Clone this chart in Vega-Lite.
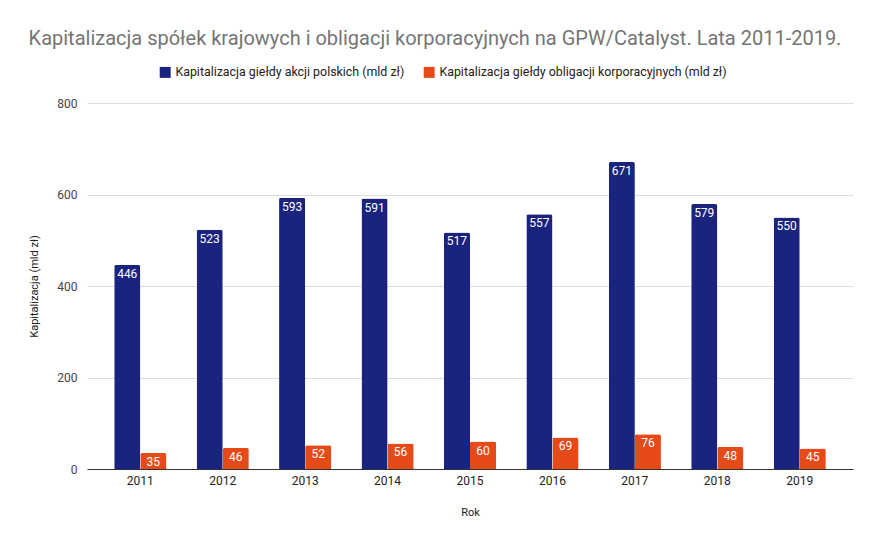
{
  "$schema": "https://vega.github.io/schema/vega-lite/v6.json",
  "width": 766,
  "height": 366,
  "autosize": {"type": "none"},
  "padding": {"left": 87, "top": 103, "right": 28, "bottom": 78},
  "background": "white",
  "title": {
    "text": "Kapitalizacja spółek krajowych i obligacji korporacyjnych na GPW/Catalyst. Lata 2011-2019.",
    "font": "Roboto",
    "fontSize": 20,
    "fontWeight": "normal",
    "color": "#757575",
    "anchor": "middle",
    "frame": "group",
    "dx": -35,
    "offset": 17
  },
  "config": {
    "font": "Roboto",
    "view": {"stroke": null}
  },
  "data": {
    "values": [
      {"Rok": "2011", "Seria": "Kapitalizacja giełdy akcji polskich (mld zł)", "Wartosc": 446},
      {"Rok": "2011", "Seria": "Kapitalizacja giełdy obligacji korporacyjnych (mld zł)", "Wartosc": 35},
      {"Rok": "2012", "Seria": "Kapitalizacja giełdy akcji polskich (mld zł)", "Wartosc": 523},
      {"Rok": "2012", "Seria": "Kapitalizacja giełdy obligacji korporacyjnych (mld zł)", "Wartosc": 46},
      {"Rok": "2013", "Seria": "Kapitalizacja giełdy akcji polskich (mld zł)", "Wartosc": 593},
      {"Rok": "2013", "Seria": "Kapitalizacja giełdy obligacji korporacyjnych (mld zł)", "Wartosc": 52},
      {"Rok": "2014", "Seria": "Kapitalizacja giełdy akcji polskich (mld zł)", "Wartosc": 591},
      {"Rok": "2014", "Seria": "Kapitalizacja giełdy obligacji korporacyjnych (mld zł)", "Wartosc": 56},
      {"Rok": "2015", "Seria": "Kapitalizacja giełdy akcji polskich (mld zł)", "Wartosc": 517},
      {"Rok": "2015", "Seria": "Kapitalizacja giełdy obligacji korporacyjnych (mld zł)", "Wartosc": 60},
      {"Rok": "2016", "Seria": "Kapitalizacja giełdy akcji polskich (mld zł)", "Wartosc": 557},
      {"Rok": "2016", "Seria": "Kapitalizacja giełdy obligacji korporacyjnych (mld zł)", "Wartosc": 69},
      {"Rok": "2017", "Seria": "Kapitalizacja giełdy akcji polskich (mld zł)", "Wartosc": 671},
      {"Rok": "2017", "Seria": "Kapitalizacja giełdy obligacji korporacyjnych (mld zł)", "Wartosc": 76},
      {"Rok": "2018", "Seria": "Kapitalizacja giełdy akcji polskich (mld zł)", "Wartosc": 579},
      {"Rok": "2018", "Seria": "Kapitalizacja giełdy obligacji korporacyjnych (mld zł)", "Wartosc": 48},
      {"Rok": "2019", "Seria": "Kapitalizacja giełdy akcji polskich (mld zł)", "Wartosc": 550},
      {"Rok": "2019", "Seria": "Kapitalizacja giełdy obligacji korporacyjnych (mld zł)", "Wartosc": 45}
    ]
  },
  "encoding": {
    "x": {
      "field": "Rok",
      "type": "nominal",
      "scale": {"paddingInner": 0.367, "paddingOuter": 0.33},
      "axis": {
        "title": "Rok",
        "titleFont": "Roboto",
        "titleFontSize": 11,
        "titleFontWeight": "normal",
        "titleColor": "#222222",
        "titlePadding": 20,
        "labelAngle": 0,
        "labelFontSize": 12,
        "labelColor": "#222222",
        "labelPadding": 6,
        "ticks": false,
        "domainColor": "#333333",
        "domainWidth": 1,
        "grid": false
      }
    },
    "xOffset": {"field": "Seria", "type": "nominal"},
    "y": {
      "field": "Wartosc",
      "type": "quantitative",
      "scale": {"domain": [0, 800]},
      "axis": {
        "title": "Kapitalizacja (mld zł)",
        "titleFont": "Roboto",
        "titleFontSize": 11,
        "titleFontWeight": "normal",
        "titleColor": "#222222",
        "titlePadding": 17,
        "values": [0, 200, 400, 600, 800],
        "labelFontSize": 12,
        "labelColor": "#444444",
        "labelPadding": 10,
        "ticks": false,
        "domain": false,
        "gridColor": "#dddddd"
      }
    }
  },
  "layer": [
    {
      "mark": {"type": "bar", "cornerRadiusTopLeft": 2, "cornerRadiusTopRight": 2},
      "encoding": {
        "color": {
          "field": "Seria",
          "type": "nominal",
          "scale": {"range": ["#1a237e", "#e64a19"]},
          "legend": {
            "title": null,
            "orient": "none",
            "direction": "horizontal",
            "legendX": 72,
            "legendY": -37,
            "symbolType": "square",
            "symbolSize": 120,
            "symbolStrokeWidth": 0,
            "labelFontSize": 12.4,
            "labelColor": "#222222",
            "labelFont": "Roboto",
            "labelLimit": 0,
            "columnPadding": 18
          }
        }
      }
    },
    {
      "mark": {"type": "text", "color": "white", "baseline": "top", "dy": 4, "fontSize": 12, "font": "Roboto"},
      "encoding": {
        "text": {"field": "Wartosc", "type": "quantitative"}
      }
    }
  ]
}
